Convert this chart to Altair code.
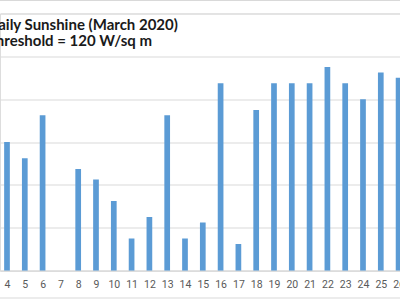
import altair as alt
import pandas as pd

days = list(range(4, 27))
hours = [6.0, 5.25, 7.25, 0.0, 4.75, 4.25, 3.25, 1.5, 2.5, 7.25, 1.5, 2.25,
         8.75, 1.25, 7.5, 8.75, 8.75, 8.75, 9.5, 8.75, 8.0, 9.25, 9.0]
title_lines = ["Daily Sunshine (March 2020)", "Threshold = 120 W/sq m"]

df = pd.DataFrame({"day": days, "hours": hours})

W, H = 400, 257.2

bars = alt.Chart(df).mark_bar(color="#5B9BD5", size=5.7, clip=True).encode(
    x=alt.X("day:Q",
            scale=alt.Scale(domain=[3.607, 26.079], nice=False, zero=False, padding=0),
            axis=alt.Axis(values=days, format="d", title=None, grid=False,
                          ticks=False, domainColor="#d9d9d9", labelColor="#595959",
                          labelFont="Roboto", labelFontSize=10.5, labelPadding=9,
                          labelFlush=False, labelOverlap=False)),
    y=alt.Y("hours:Q",
            scale=alt.Scale(domain=[0, 12], nice=False),
            axis=alt.Axis(values=[0, 2, 4, 6, 8, 10, 12], gridColor="#d9d9d9",
                          labels=False, ticks=False, domain=False, title=None)),
)

border = alt.Chart(pd.DataFrame({"k": [0]})).mark_rule(color="#d9d9d9", strokeWidth=1).encode(
    x=alt.value(0), x2=alt.value(W), y=alt.value(-13))
border2 = alt.Chart(pd.DataFrame({"k": [0]})).mark_rule(color="#d9d9d9", strokeWidth=1).encode(
    x=alt.value(0), x2=alt.value(W), y=alt.value(H + 27.3))

chart = alt.layer(bars, border, border2).properties(
    width=W, height=H,
    autosize=alt.AutoSizeParams(type="none"),
    padding={"left": 0, "right": 0, "top": 13.5, "bottom": 29.3},
    title=alt.TitleParams(text=title_lines, anchor="start", align="left", frame="group",
                          dx=-13, dy=61, orient="top", offset=0,
                          font="Lato", fontSize=15, fontWeight="bold", color="#1a1a1a",
                          lineHeight=16, baseline="alphabetic"),
).configure_view(stroke=None).configure(background="white")

chart.save("out.html", embed_options={"renderer": "svg", "actions": False})
